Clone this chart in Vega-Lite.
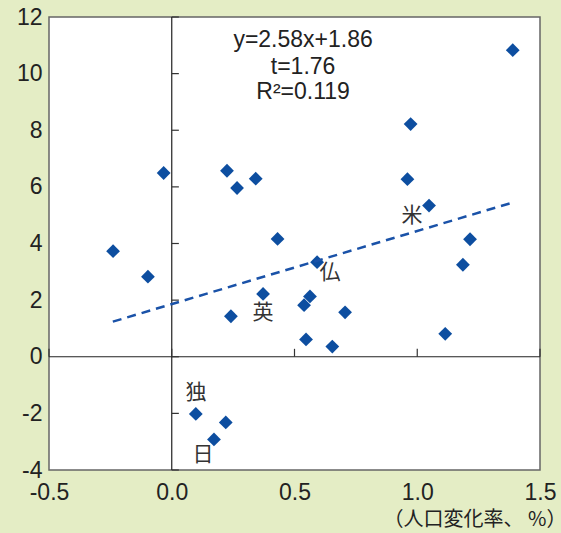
{
  "$schema": "https://vega.github.io/schema/vega-lite/v6.json",
  "width": 491,
  "height": 453,
  "autosize": "none",
  "padding": {"left": 49, "top": 17, "right": 21, "bottom": 63},
  "background": "#e4edc5",
  "config": {
    "view": {"fill": "white", "stroke": "#666", "strokeWidth": 1.5},
    "axis": {"domain": false, "ticks": false, "grid": false, "labelFont": "Liberation Sans", "labelFontSize": 23, "labelColor": "#222", "labelFlush": false, "labelOverlap": false}
  },
  "datasets": {
    "pts": [
      {"x": -0.239, "y": 3.73}, {"x": -0.097, "y": 2.83}, {"x": -0.033, "y": 6.49},
      {"x": 0.225, "y": 6.57}, {"x": 0.266, "y": 5.96}, {"x": 0.342, "y": 6.29},
      {"x": 0.431, "y": 4.16}, {"x": 0.372, "y": 2.22}, {"x": 0.241, "y": 1.43},
      {"x": 0.592, "y": 3.34}, {"x": 0.563, "y": 2.13}, {"x": 0.539, "y": 1.82},
      {"x": 0.547, "y": 0.61}, {"x": 0.654, "y": 0.36}, {"x": 0.706, "y": 1.57},
      {"x": 0.973, "y": 8.22}, {"x": 0.960, "y": 6.27}, {"x": 1.048, "y": 5.34},
      {"x": 1.215, "y": 4.15}, {"x": 1.186, "y": 3.25}, {"x": 1.114, "y": 0.81},
      {"x": 1.389, "y": 10.83}, {"x": 0.098, "y": -2.02}, {"x": 0.220, "y": -2.32},
      {"x": 0.172, "y": -2.92}
    ],
    "reg": [{"x": -0.24, "y": 1.24}, {"x": 1.39, "y": 5.45}],
    "zero": [{"x": 0, "y": 0}],
    "xt": [{"x": -0.5}, {"x": 0}, {"x": 0.5}, {"x": 1.0}, {"x": 1.5}],
    "yt": [{"y": -4}, {"y": -2}, {"y": 0}, {"y": 2}, {"y": 4}, {"y": 6}, {"y": 8}, {"y": 10}, {"y": 12}],
    "stats": [
      {"x": 0.535, "y": 11.19, "label": "y=2.58x+1.86"},
      {"x": 0.535, "y": 10.23, "label": "t=1.76"},
      {"x": 0.535, "y": 9.35, "label": "R²=0.119"}
    ],
    "names": [
      {"x": 0.979, "y": 4.97, "label": "米"},
      {"x": 0.645, "y": 2.95, "label": "仏"},
      {"x": 0.372, "y": 1.54, "label": "英"},
      {"x": 0.099, "y": -1.29, "label": "独"},
      {"x": 0.127, "y": -3.48, "label": "日"}
    ]
  },
  "layer": [
    {
      "data": {"name": "pts"},
      "mark": {"type": "point", "shape": "diamond", "filled": true, "size": 190, "color": "#0d4ea0", "opacity": 1},
      "encoding": {
        "x": {"field": "x", "type": "quantitative", "scale": {"domain": [-0.5, 1.5], "nice": false, "zero": false},
              "axis": {"values": [-0.5, 0, 0.5, 1.0, 1.5], "format": ".1f", "labelExpr": "replace(datum.label, '−', '-')", "labelPadding": 11,
                       "title": "（人口変化率、 %）", "titleFont": "Noto Sans CJK JP", "titleFontSize": 20, "titleFontWeight": "normal", "titleColor": "#222",
                       "titleAnchor": "end", "titleAlign": "right", "titleX": 517, "titleY": 49, "titleBaseline": "middle"}},
        "y": {"field": "y", "type": "quantitative", "scale": {"domain": [-4, 12], "nice": false, "zero": false},
              "axis": {"values": [-4, -2, 0, 2, 4, 6, 8, 10, 12], "labelExpr": "replace(datum.label, '−', '-')", "labelPadding": 7, "title": null}}
      }
    },
    {
      "data": {"name": "zero"},
      "mark": {"type": "rule", "color": "#222", "strokeWidth": 1.2},
      "encoding": {"x": {"field": "x", "type": "quantitative"}}
    },
    {
      "data": {"name": "zero"},
      "mark": {"type": "rule", "color": "#222", "strokeWidth": 1.2},
      "encoding": {"y": {"field": "y", "type": "quantitative"}}
    },
    {
      "data": {"name": "xt"},
      "mark": {"type": "rule", "color": "#333", "strokeWidth": 1.2},
      "encoding": {"x": {"field": "x", "type": "quantitative"}, "y": {"datum": 0}, "y2": {"datum": 0.28}}
    },
    {
      "data": {"name": "yt"},
      "mark": {"type": "rule", "color": "#333", "strokeWidth": 1.2},
      "encoding": {"y": {"field": "y", "type": "quantitative"}, "x": {"datum": 0}, "x2": {"datum": 0.029}}
    },
    {
      "data": {"name": "reg"},
      "mark": {"type": "line", "color": "#1a52a8", "strokeWidth": 2.5, "strokeDash": [9, 6]},
      "encoding": {"x": {"field": "x", "type": "quantitative"}, "y": {"field": "y", "type": "quantitative"}}
    },
    {
      "data": {"name": "stats"},
      "mark": {"type": "text", "font": "Liberation Sans", "fontSize": 23, "color": "#222", "align": "center", "baseline": "middle"},
      "encoding": {"x": {"field": "x", "type": "quantitative"}, "y": {"field": "y", "type": "quantitative"}, "text": {"field": "label"}}
    },
    {
      "data": {"name": "names"},
      "mark": {"type": "text", "font": "Noto Sans CJK JP", "fontSize": 21, "color": "#333", "align": "center", "baseline": "middle"},
      "encoding": {"x": {"field": "x", "type": "quantitative"}, "y": {"field": "y", "type": "quantitative"}, "text": {"field": "label"}}
    }
  ]
}
